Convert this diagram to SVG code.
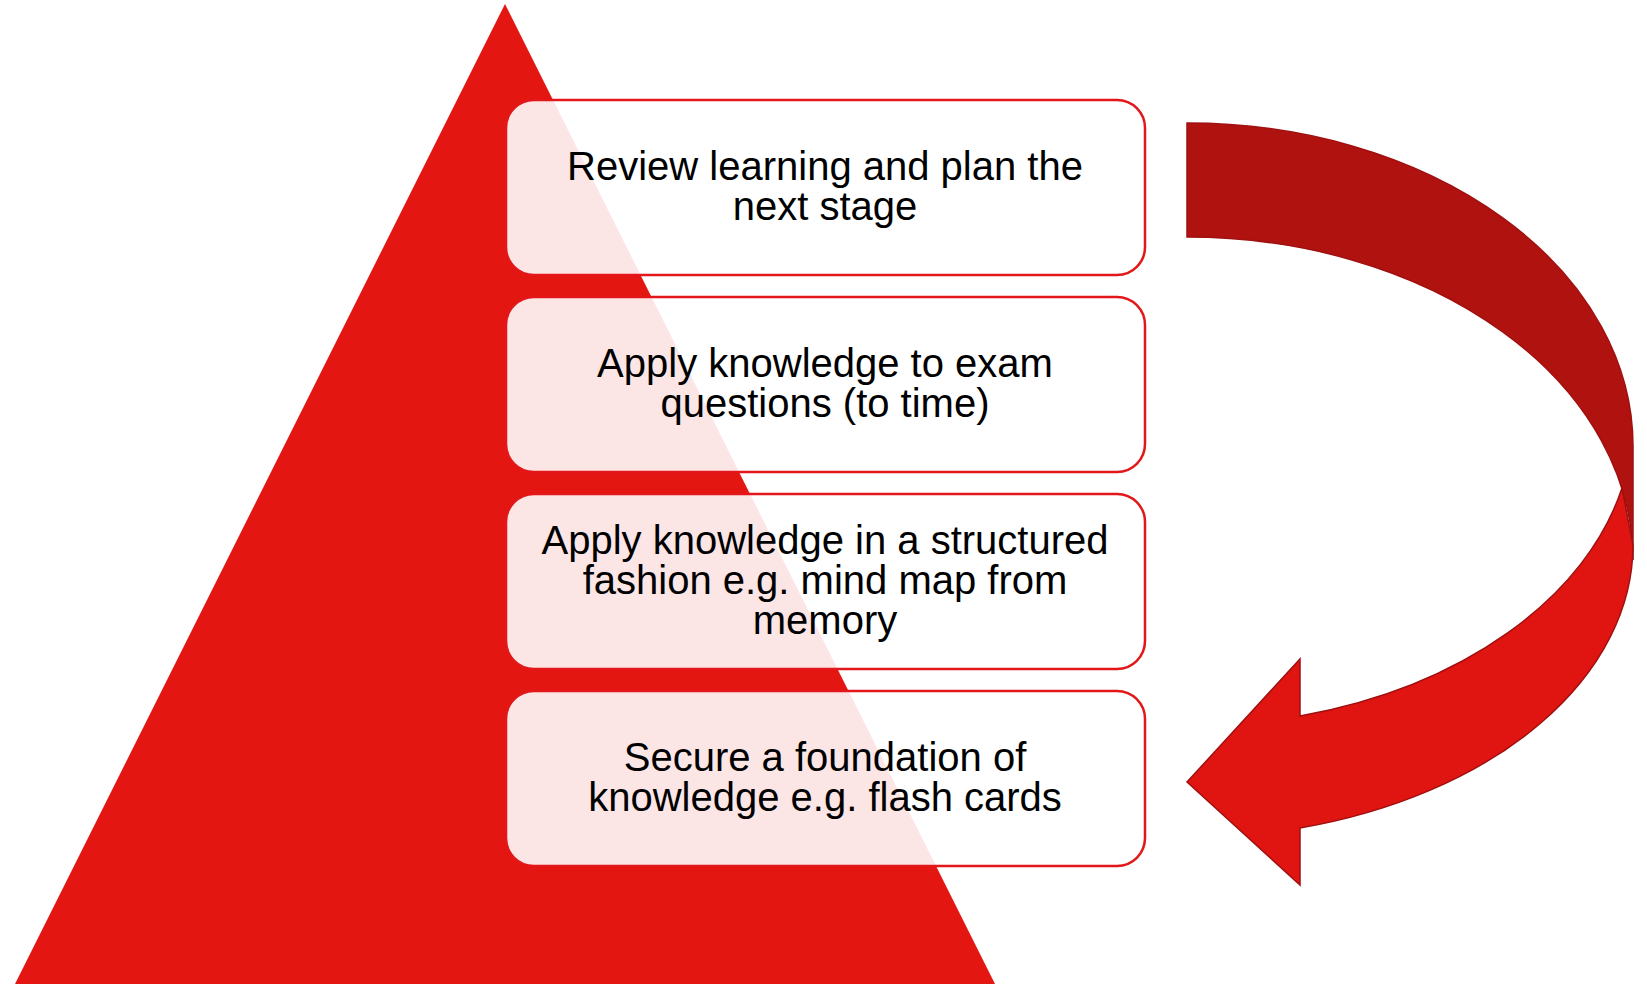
<svg xmlns="http://www.w3.org/2000/svg" width="1647" height="984" viewBox="0 0 1647 984">
<style>
.box{fill:#ffffff;fill-opacity:0.89;stroke:#E3171A;stroke-width:2.5}
.lbl{font-family:"Liberation Sans",Arial,sans-serif;font-size:40px;fill:#000;text-anchor:middle}
.back{fill:#B0130F;stroke:#A01010;stroke-width:1.5}
.front{fill:#E01511;stroke:#A01010;stroke-width:1.5}
</style>
<rect width="1647" height="984" fill="#fff"/>
<g id="pyramid"><polygon points="505,4 15,984 995,984" fill="#E41612"/></g>
<g id="connectors">
<path class="back" d="M1187,123 A446,323 0 0 1 1633,446 L1633,560 A446,323 0 0 0 1187,237 Z"/>
<path class="front" d="M1622,488 L1633,545 A446,293 0 0 1 1300,828 L1300,885 L1187,782 L1300,659 L1300,716 A446,305 0 0 0 1622,488 Z"/>
</g>
<g id="node1"><rect class="box" x="506" y="100" width="639" height="175" rx="28"/>
<text class="lbl" x="825" y="179.5">Review learning and plan the</text><text class="lbl" x="825" y="219.5">next stage</text></g>
<g id="node2"><rect class="box" x="506" y="297" width="639" height="175" rx="28"/>
<text class="lbl" x="825" y="376.5">Apply knowledge to exam</text><text class="lbl" x="825" y="416.5">questions (to time)</text></g>
<g id="node3"><rect class="box" x="506" y="494" width="639" height="175" rx="28"/>
<text class="lbl" x="825" y="553.5">Apply knowledge in a structured</text><text class="lbl" x="825" y="593.5">fashion e.g. mind map from</text><text class="lbl" x="825" y="633.5">memory</text></g>
<g id="node4"><rect class="box" x="506" y="691" width="639" height="175" rx="28"/>
<text class="lbl" x="825" y="770.5">Secure a foundation of</text><text class="lbl" x="825" y="810.5">knowledge e.g. flash cards</text></g>
</svg>
